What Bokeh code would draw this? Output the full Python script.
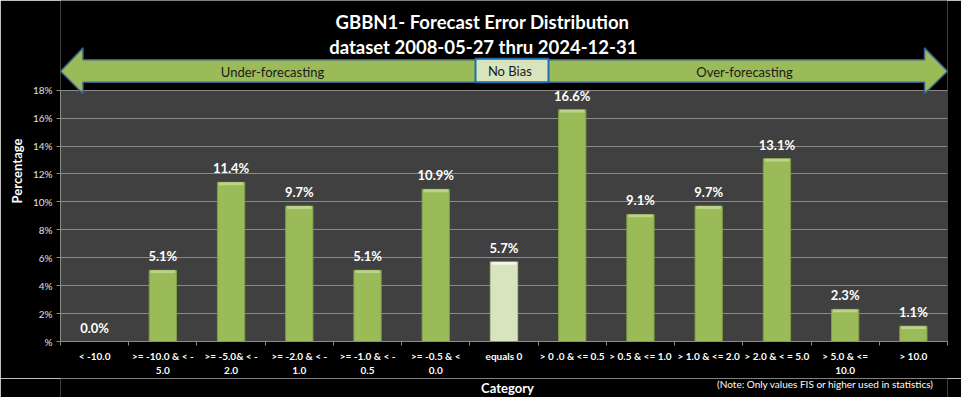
from bokeh.plotting import figure
from bokeh.layouts import column
from bokeh.models import (Range1d, FactorRange, FixedTicker, LinearAxis,
                          ColumnDataSource, LabelSet)
from bokeh.embed import file_html
from bokeh.resources import INLINE
from bokeh.core.properties import value

# ---------------- data ----------------
categories = ["< -10.0", ">= -10.0 & < -\n5.0", ">= -5.0& < -\n2.0", ">= -2.0 & < -\n1.0",
              ">= -1.0 & < -\n0.5", ">= -0.5 & <\n0.0", "equals 0", "> 0 .0 & <= 0.5",
              "> 0.5 & <= 1.0", "> 1.0 & <= 2.0", "> 2.0 & < = 5.0", "> 5.0 & <=\n10.0", "> 10.0"]
percentages = [0.0, 5.1, 11.4, 9.7, 5.1, 10.9, 5.7, 16.6, 9.1, 9.7, 13.1, 2.3, 1.1]
y_ticks = [0, 2, 4, 6, 8, 10, 12, 14, 16, 18]
y_tick_labels = ["%", "2%", "4%", "6%", "8%", "10%", "12%", "14%", "16%", "18%"]
title_lines = ["GBBN1- Forecast Error Distribution", "dataset 2008-05-27  thru 2024-12-31"]
band_labels = ["Under-forecasting", "No  Bias", "Over-forecasting"]
x_title = "Category"
note_text = "(Note: Only values FIS or higher used in statistics)"

FONT = "Lato"
W = 961
FL, FR, FT, FB = 60, 947, 90, 342          # plot-area edges in page pixels
H_MAIN = 378
H_FOOT = 397 - H_MAIN
N = len(categories)
YMAX = y_ticks[-1]
PX_PER_UNIT = (FB - FT) / YMAX


def sx(px):  # page x -> synthetic categorical coordinate
    return (px - FL) / (FR - FL) * N


def sy(py):  # page y -> data y
    return (FB - py) / PX_PER_UNIT


colors = ["#d7e4bd" if c == "equals 0" else "#9bbb59" for c in categories]
hi_colors = ["#f2f7e8" if c == "equals 0" else "#bcd48a" for c in categories]
edge_colors = ["#b5c79a" if c == "equals 0" else "#7f9d45" for c in categories]
labels = [f"{v:.1f}%" for v in percentages]
hi_bottom = [max(v - 0.2, 0) for v in percentages]
src = ColumnDataSource(dict(cat=categories, pct=percentages, color=colors, hi=hi_colors,
                            edge=edge_colors, label=labels, hib=hi_bottom))

# frame covers page y 0..FB so the title band is drawn inside it
p = figure(width=W, height=H_MAIN, output_backend="svg", toolbar_location=None,
           x_range=FactorRange(*categories, range_padding=0),
           y_range=Range1d(0, FB / PX_PER_UNIT),
           x_axis_location=None, y_axis_location=None,
           min_border_left=FL, min_border_right=W - FR,
           min_border_top=0, min_border_bottom=H_MAIN - FB)
p.background_fill_color = "black"
p.border_fill_color = "black"
p.outline_line_color = None

# plot area background
p.quad(left=[0], right=[N], bottom=[0], top=[YMAX], fill_color="#404040",
       line_color=None, level="image")

# ---- y axis ----
yaxis = LinearAxis(ticker=FixedTicker(ticks=y_ticks), bounds=(0, YMAX),
                   major_label_overrides={t: l for t, l in zip(y_ticks, y_tick_labels)})
yaxis.axis_line_color = "#8c8c8c"
yaxis.major_tick_line_color = "#8c8c8c"
yaxis.major_tick_out = 4
yaxis.major_tick_in = 0
yaxis.minor_tick_line_color = None
yaxis.major_label_text_color = "#e0e0e0"
yaxis.major_label_text_font = FONT
yaxis.major_label_text_font_size = "10px"
yaxis.major_label_standoff = 4
yaxis.axis_label = "Percentage"
yaxis.axis_label_text_color = "white"
yaxis.axis_label_text_font = FONT
yaxis.axis_label_text_font_size = "13px"
yaxis.axis_label_text_font_style = "bold"
yaxis.axis_label_standoff = 5
p.add_layout(yaxis, "left")

# ---- x axis: labels at category centres, tick marks at boundaries ----
centres = [i + 0.5 for i in range(N)]
xaxis = LinearAxis(ticker=FixedTicker(ticks=centres, minor_ticks=list(range(N + 1))),
                   major_label_overrides={c: lab for c, lab in zip(centres, categories)})
xaxis.axis_line_color = "#8c8c8c"
xaxis.major_tick_line_color = None
xaxis.major_tick_out = 0
xaxis.major_tick_in = 0
xaxis.minor_tick_line_color = "#8c8c8c"
xaxis.minor_tick_out = 4
xaxis.minor_tick_in = 0
xaxis.major_label_text_color = "white"
xaxis.major_label_text_font = FONT
xaxis.major_label_text_font_size = "10px"
xaxis.major_label_text_font_style = "bold"
xaxis.major_label_standoff = 4
xaxis.major_label_orientation = "horizontal"
p.add_layout(xaxis, "below")

p.xgrid.visible = False
p.ygrid.ticker = FixedTicker(ticks=y_ticks)
p.ygrid.grid_line_color = "#8a8a8a"
p.ygrid.grid_line_width = 1

# ---- bars ----
p.vbar(x="cat", top="pct", width=0.4, source=src, fill_color="color",
       line_color="edge", line_width=1)
p.vbar(x="cat", top="pct", bottom="hib", width=0.36, source=src, fill_color="hi",
       line_color=None)

p.add_layout(LabelSet(x="cat", y="pct", text="label", source=src, y_offset=6,
                      text_align="center", text_baseline="bottom", text_color="white",
                      text_font=value(FONT), text_font_size="13px", text_font_style="bold"))

# ---- arrow band and titles ----
ax_px = [60, 82.5, 82.5, 924, 924, 947, 924, 924, 82.5, 82.5]
ay_px = [71, 47.5, 59.5, 59.5, 47.5, 71, 93.5, 82, 82, 93.5]
p.patch([sx(v) for v in ax_px], [sy(v) for v in ay_px], fill_color="#9bbb59",
        line_color="#3a5f8c", line_width=1.5)
p.quad(left=[sx(475)], right=[sx(548)], top=[sy(58.5)], bottom=[sy(82)],
       fill_color="#d7e4bd", line_color="#1f6bb0", line_width=2)
p.text(x=[sx(272), sx(511), sx(744)], y=[sy(72), sy(71), sy(72)], text=band_labels,
       text_font=value(FONT), text_font_size="13px", text_color="#1a1a1a",
       text_align="center", text_baseline="middle")
p.text(x=[sx(482), sx(485)], y=[sy(22), sy(47)], text=title_lines, text_font=value(FONT),
       text_font_size="18.5px", text_font_style="bold", text_color="white",
       text_align="center", text_baseline="middle")

# ---------------- footer strip: axis title and note ----------------
f = figure(width=W, height=H_FOOT, output_backend="svg", toolbar_location=None,
           x_range=Range1d(FL, FR), y_range=Range1d(397, H_MAIN),
           x_axis_location=None, y_axis_location=None,
           min_border_left=FL, min_border_right=W - FR, min_border_top=0, min_border_bottom=0)
f.background_fill_color = "black"
f.border_fill_color = "black"
f.outline_line_color = None
f.xgrid.visible = False
f.ygrid.visible = False
f.text(x=[507], y=[387], text=[x_title], text_font=value(FONT), text_font_size="13px",
       text_font_style="bold", text_color="white", text_align="center", text_baseline="middle")
f.text(x=[825], y=[383.5], text=[note_text], text_font=value(FONT), text_font_size="10px",
       text_color="white", text_align="center", text_baseline="middle")

layout = column(p, f, spacing=0)
html = file_html(layout, INLINE)
html = html.replace("<body>", '<body style="background-color:black">', 1)
open("out.html", "w").write(html)
